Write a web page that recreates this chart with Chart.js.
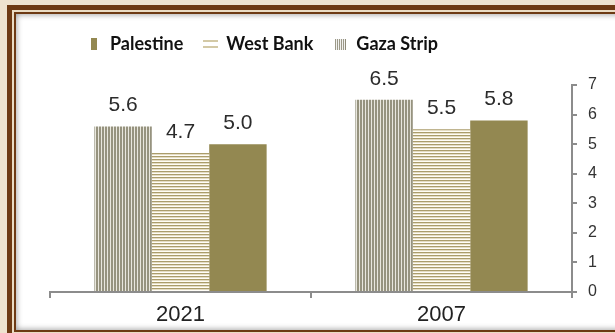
<!DOCTYPE html>
<html>
<head>
<meta charset="utf-8">
<title>Unemployment rate</title>
<script src="https://cdn.jsdelivr.net/npm/chart.js@4"></script>
<style>
  html, body { margin: 0; padding: 0; }
  body { width: 615px; height: 333px; overflow: hidden; background: #eee3d0; position: relative; }
  .frame { position: absolute; left: 7px; top: 5px; width: 630px; height: 334px; background: #6d3a14; padding: 5px; box-sizing: border-box; }
  .frame-mid { background: #eadcc4; padding: 2px; height: 100%; box-sizing: border-box; }
  .frame-in { background: #6d3a14; padding: 2px; height: 100%; box-sizing: border-box; }
  .frame-white { background: #fff; height: 100%; box-shadow: inset 0 0 6px rgba(0,0,0,0.45); }
  #chart { position: absolute; left: 0; top: 0; }
</style>
</head>
<body>
<div class="frame"><div class="frame-mid"><div class="frame-in"><div class="frame-white"></div></div></div></div>
<canvas id="chart" width="615" height="333"></canvas>
<script>
const years = ["2021", "2007"];
const gazaStrip = [5.6, 6.5];
const westBank = [4.7, 5.5];
const palestine = [5.0, 5.8];
const yTicks = [0, 1, 2, 3, 4, 5, 6, 7];

// small canvases used as fill patterns and legend markers
function makeCanvas(w, h, draw) {
  const c = document.createElement("canvas");
  c.width = w;
  c.height = h;
  draw(c.getContext("2d"));
  return c;
}

const ctx = document.getElementById("chart").getContext("2d");

const verticalTile = makeCanvas(3, 3, (g) => {
  g.fillStyle = "#e9e7de";
  g.fillRect(0, 0, 3, 3);
  g.fillStyle = "#96937f";
  g.fillRect(0, 0, 2, 3);
});
const horizontalTile = makeCanvas(3, 3, (g) => {
  g.fillStyle = "#fffdf7";
  g.fillRect(0, 0, 3, 3);
  g.fillStyle = "#ab9d6b";
  g.fillRect(0, 0, 3, 1);
  g.fillStyle = "#e4dcc4";
  g.fillRect(0, 1, 3, 1);
});
const gazaFill = ctx.createPattern(verticalTile, "repeat");
const westBankFill = ctx.createPattern(horizontalTile, "repeat");
const palestineFill = "#938851";

// legend markers
const gazaMarker = makeCanvas(11, 11, (g) => {
  g.fillStyle = "#8e8b79";
  for (let x = 0; x < 11; x += 2) g.fillRect(x, 0, 1, 11);
});
const westBankMarker = makeCanvas(15, 8, (g) => {
  g.fillStyle = "#d3c9a6";
  g.fillRect(0, 0, 15, 2);
  g.fillRect(0, 6, 15, 2);
});
const palestineMarker = makeCanvas(6, 12, (g) => {
  g.fillStyle = palestineFill;
  g.fillRect(0, 0, 6, 12);
});

// value above each bar
const barValues = {
  id: "barValues",
  afterDatasetsDraw(chart) {
    const c = chart.ctx;
    c.save();
    c.font = "21px 'Liberation Sans', Arial, sans-serif";
    c.fillStyle = "#2b2b2b";
    c.textAlign = "center";
    c.textBaseline = "alphabetic";
    chart.data.datasets.forEach((ds, i) => {
      chart.getDatasetMeta(i).data.forEach((bar, j) => {
        c.fillText(ds.data[j].toFixed(1), bar.x, bar.y - 15);
      });
    });
    c.restore();
  }
};

// more room under the legend, and move it left over the bars
const legendSpacer = {
  id: "legendSpacer",
  beforeInit(chart) {
    const fit = chart.legend.fit;
    chart.legend.fit = function () {
      fit.call(this);
      this.height += 22;
    };
  },
  afterLayout(chart) {
    chart.legend.left -= 70;
    chart.legend.right -= 70;
  }
};

new Chart(ctx, {
  type: "bar",
  data: {
    labels: years,
    datasets: [
      { label: "Gaza Strip", data: gazaStrip, backgroundColor: gazaFill, pointStyle: gazaMarker },
      { label: "West Bank", data: westBank, backgroundColor: westBankFill, pointStyle: westBankMarker },
      { label: "Palestine", data: palestine, backgroundColor: palestineFill, pointStyle: palestineMarker }
    ]
  },
  options: {
    responsive: false,
    animation: false,
    layout: { padding: { left: 50, top: 15, right: 0, bottom: 0 } },
    datasets: {
      bar: { categoryPercentage: 0.66, barPercentage: 1.0, borderWidth: 0 }
    },
    scales: {
      x: {
        offset: true,
        grid: { drawOnChartArea: false, tickLength: 6, color: "#8c8c8c", lineWidth: 2, offset: true },
        border: { color: "#8c8c8c", width: 2 },
        ticks: { color: "#222", padding: 4, font: { family: "'Liberation Sans', Arial, sans-serif", size: 22 } },
        afterFit(scale) { scale.height = 41; }
      },
      y: {
        position: "right",
        min: 0,
        max: 7,
        afterBuildTicks(scale) { scale.ticks = yTicks.map((v) => ({ value: v })); },
        grid: { drawOnChartArea: false, tickLength: 5, color: "#8c8c8c", lineWidth: 2 },
        border: { color: "#8c8c8c", width: 2 },
        ticks: { color: "#333", padding: 11, font: { family: "'Liberation Sans', Arial, sans-serif", size: 16 } },
        afterFit(scale) { scale.width = 43; }
      }
    },
    plugins: {
      legend: {
        reverse: true,
        labels: {
          usePointStyle: true,
          boxWidth: 14,
          padding: 20,
          color: "#111",
          font: { family: "Lato, 'Open Sans', sans-serif", size: 18, weight: "bold" }
        }
      },
      tooltip: { enabled: false }
    }
  },
  plugins: [barValues, legendSpacer]
});
</script>
</body>
</html>
